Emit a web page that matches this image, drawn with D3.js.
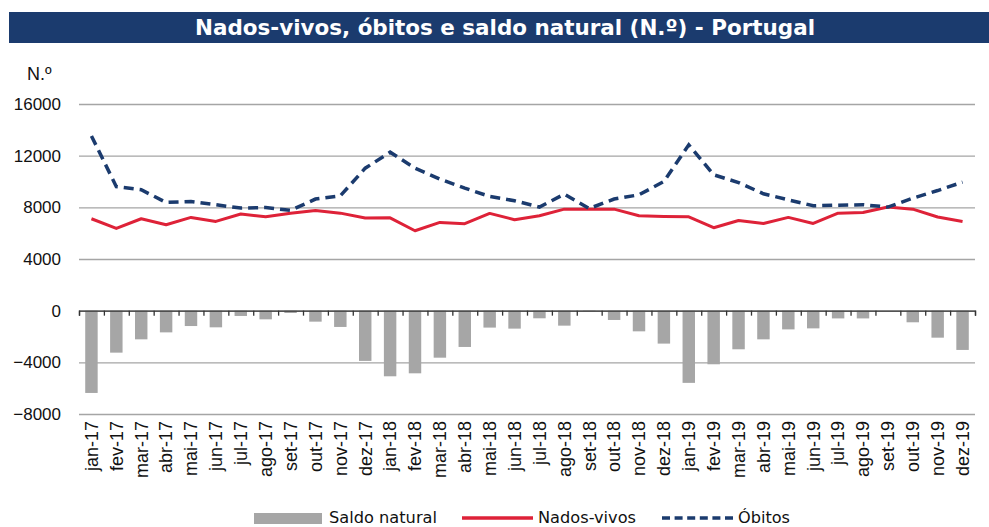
<!doctype html>
<html>
<head>
<meta charset="utf-8">
<script src="https://d3js.org/d3.v7.min.js"></script>
<style>
  body { margin: 0; background: #fff; }
  svg { display: block; }
  .tick text { font-family: "Liberation Sans", Arial, sans-serif; }
</style>
</head>
<body>
<svg width="989" height="527"></svg>
<script>
// months, jan-17 .. dez-19
var months = ["jan-17","fev-17","mar-17","abr-17","mai-17","jun-17","jul-17","ago-17","set-17","out-17","nov-17","dez-17",
              "jan-18","fev-18","mar-18","abr-18","mai-18","jun-18","jul-18","ago-18","set-18","out-18","nov-18","dez-18",
              "jan-19","fev-19","mar-19","abr-19","mai-19","jun-19","jul-19","ago-19","set-19","out-19","nov-19","dez-19"];

var nadosVivos = [7115,6370,7115,6650,7220,6910,7480,7270,7550,7760,7550,7170,
                  7190,6190,6830,6730,7530,7040,7350,7860,7860,7860,7350,7290,
                  7270,6420,6980,6750,7220,6750,7550,7600,8020,7860,7250,6910];

var obitos = [13530,9600,9360,8380,8450,8200,7940,7990,7760,8640,8890,11030,
              12270,11030,10190,9490,8840,8510,8020,9020,7910,8640,8970,10000,
              12840,10520,9920,9050,8580,8120,8170,8200,8020,8710,9300,9950];

var saldoNatural = [-6370,-3250,-2220,-1680,-1190,-1290,-410,-670,-180,-850,-1260,-3890,
                    -5080,-4850,-3640,-2810,-1310,-1390,-590,-1160,-40,-720,-1600,-2550,
                    -5590,-4150,-2990,-2220,-1450,-1370,-600,-600,0,-900,-2090,-3040];

var yTicks = [-8000,-4000,0,4000,8000,12000,16000];

var navy = "#1b3b6e", red = "#de2238", grey = "#a6a6a6";

var svg = d3.select("svg");

// title bar
svg.append("rect")
   .attr("x", 9).attr("y", 12).attr("width", 980).attr("height", 31)
   .attr("fill", navy);
svg.append("text")
   .attr("x", 505).attr("y", 35)
   .attr("text-anchor", "middle")
   .attr("fill", "#fff")
   .attr("font-family", "DejaVu Sans Condensed, DejaVu Sans, sans-serif")
   .attr("font-weight", "bold")
   .attr("font-size", "21px")
   .attr("textLength", 620)
   .attr("lengthAdjust", "spacingAndGlyphs")
   .text("Nados-vivos, óbitos e saldo natural (N.º) - Portugal");

svg.append("text")
   .attr("x", 27).attr("y", 80)
   .attr("font-family", "Liberation Sans, Arial, sans-serif")
   .attr("font-size", "18px")
   .attr("fill", "#111")
   .text("N.º");

var x = d3.scaleBand().domain(months).range([79, 975]).paddingInner(0.5).paddingOuter(0.25);
var xc = function(d) { return x(d) + x.bandwidth() / 2; };
var y = d3.scaleLinear().domain([-8000, 16000]).range([414, 104]);

// gridlines + y labels
var yAxis = svg.append("g")
   .attr("transform", "translate(79,0)")
   .call(d3.axisLeft(y).tickValues(yTicks).tickSize(-896).tickPadding(18).tickFormat(d3.format("d")));
yAxis.select(".domain").remove();
yAxis.selectAll(".tick line").attr("stroke", "#a5a5a5").attr("stroke-width", 1.3);
yAxis.selectAll(".tick text").attr("font-size", "17px").attr("fill", "#111");

// bars
svg.append("g").selectAll("rect")
   .data(months)
   .enter().append("rect")
   .attr("x", function(d) { return x(d); })
   .attr("width", x.bandwidth())
   .attr("y", y(0))
   .attr("height", function(d, i) { return y(saldoNatural[i]) - y(0); })
   .attr("fill", grey);

// zero axis with ticks between categories
var band = d3.scaleLinear().domain([0, months.length]).range([79, 975]);
var xAxis = svg.append("g")
   .attr("transform", "translate(0," + y(0) + ")")
   .call(d3.axisBottom(band).tickValues(d3.range(months.length + 1)).tickSize(5).tickFormat(""));
xAxis.selectAll("line, path").attr("stroke", "#333").attr("stroke-width", 1.3);

// month labels under plot
var lab = svg.append("g")
   .attr("transform", "translate(0,414)")
   .call(d3.axisBottom(x).tickSize(0).tickPadding(0));
lab.select(".domain").remove();
lab.selectAll(".tick text")
   .attr("transform", "rotate(-90)")
   .attr("text-anchor", "end")
   .attr("dy", "0.35em")
   .attr("x", -7).attr("y", 0)
   .attr("font-size", "18px")
   .attr("fill", "#111");

// lines
var line = function(vals) {
  return d3.line().x(function(d, i) { return xc(months[i]); }).y(function(d) { return y(d); })(vals);
};
svg.append("path").attr("d", line(nadosVivos))
   .attr("fill", "none").attr("stroke", red).attr("stroke-width", 3).attr("stroke-linejoin", "round");
svg.append("path").attr("d", line(obitos))
   .attr("fill", "none").attr("stroke", navy).attr("stroke-width", 3.5)
   .attr("stroke-dasharray", "10,6");

// legend
var lg = svg.append("g")
   .attr("font-family", "DejaVu Sans Condensed, DejaVu Sans, sans-serif")
   .attr("font-size", "15px").attr("fill", "#111");
lg.append("rect").attr("x", 254).attr("y", 513).attr("width", 68).attr("height", 11).attr("fill", grey);
lg.append("text").attr("x", 329).attr("y", 523).attr("textLength", 108).attr("lengthAdjust", "spacingAndGlyphs").text("Saldo natural");
lg.append("line").attr("x1", 462).attr("x2", 533).attr("y1", 518).attr("y2", 518)
  .attr("stroke", red).attr("stroke-width", 3.5);
lg.append("text").attr("x", 538).attr("y", 523).attr("textLength", 98).attr("lengthAdjust", "spacingAndGlyphs").text("Nados-vivos");
lg.append("line").attr("x1", 662).attr("x2", 733).attr("y1", 518).attr("y2", 518)
  .attr("stroke", navy).attr("stroke-width", 3.5).attr("stroke-dasharray", "8,4.6");
lg.append("text").attr("x", 738).attr("y", 523).attr("textLength", 52).attr("lengthAdjust", "spacingAndGlyphs").text("Óbitos");
</script>
</body>
</html>
